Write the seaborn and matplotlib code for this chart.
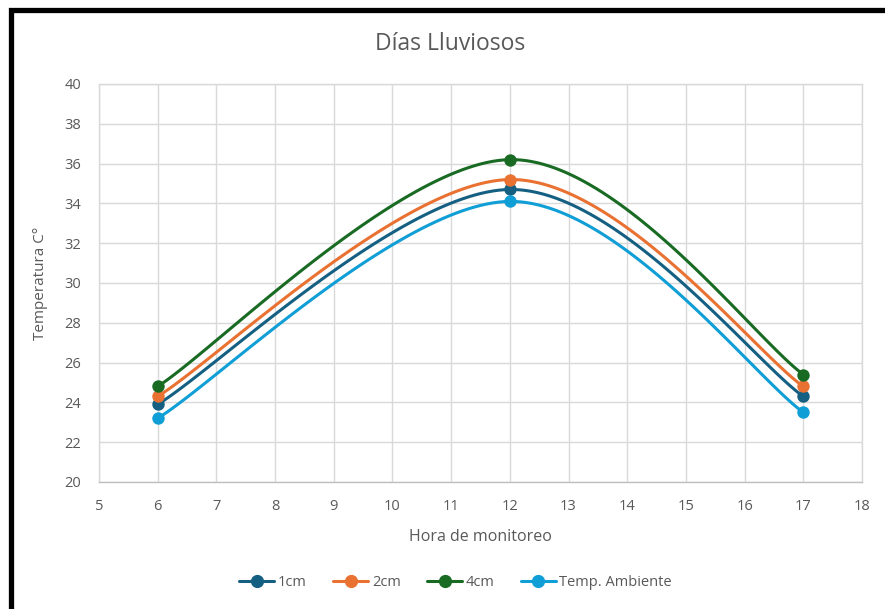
import numpy as np
import pandas as pd
import matplotlib
matplotlib.use("Agg")
import matplotlib.pyplot as plt
from matplotlib.lines import Line2D
from matplotlib.patches import Rectangle
import seaborn as sns

# Monitoring hours and temperatures (°C) on rainy days
horas = [6, 12, 17]
temp_1cm = [23.9, 34.7, 24.3]
temp_2cm = [24.3, 35.2, 24.8]
temp_4cm = [24.8, 36.2, 25.4]
temp_ambiente = [23.2, 34.1, 23.5]

series_names = ["1cm", "2cm", "4cm", "Temp. Ambiente"]
series_colors = ["#156082", "#E97132", "#196B24", "#0F9ED5"]

x_ticks = list(range(5, 19))
y_ticks = list(range(20, 41, 2))

sns.set_style("white")
plt.rcParams["font.family"] = ["Open Sans", "DejaVu Sans"]

GRAY = "#595959"
GRID = "#D9D9D9"


def smooth_curve(xs, ys, n=60):
    """Bezier smoothing through the points (Catmull-Rom style tangents)."""
    pts = np.column_stack([xs, ys]).astype(float)
    ext = np.vstack([pts[0], pts, pts[-1]])
    out = []
    t = np.linspace(0, 1, n)[:, None]
    for i in range(len(pts) - 1):
        p0, p1 = ext[i + 1], ext[i + 2]
        c1 = p0 + (ext[i + 2] - ext[i]) / 6.0
        c2 = p1 - (ext[i + 3] - ext[i + 1]) / 6.0
        seg = ((1 - t) ** 3) * p0 + 3 * ((1 - t) ** 2) * t * c1 + 3 * (1 - t) * t ** 2 * c2 + t ** 3 * p1
        out.append(seg if i == 0 else seg[1:])
    curve = np.vstack(out)
    return curve[:, 0], curve[:, 1]


fig = plt.figure(figsize=(8.85, 6.09), dpi=100)
ax = fig.add_axes([99 / 885, 1 - 482 / 609, (862 - 99) / 885, (482 - 84) / 609])

for name, vals, col in zip(series_names, [temp_1cm, temp_2cm, temp_4cm, temp_ambiente], series_colors):
    cx, cy = smooth_curve(horas, vals)
    curve_df = pd.DataFrame({"x": cx, "y": cy})
    sns.lineplot(data=curve_df, x="x", y="y", sort=False, color=col, linewidth=2.2, ax=ax, zorder=3)
    pts_df = pd.DataFrame({"x": horas, "y": vals})
    sns.scatterplot(data=pts_df, x="x", y="y", color=col, s=80, edgecolor=col, linewidth=0, ax=ax, zorder=4)

ax.set_xlim(5, 18)
ax.set_ylim(20, 40)
ax.set_xticks(x_ticks)
ax.set_yticks(y_ticks)
ax.grid(True, color=GRID, linewidth=1.0)
ax.set_axisbelow(True)
for side in ["top", "right", "left"]:
    ax.spines[side].set_color(GRID)
    ax.spines[side].set_linewidth(1.0)
ax.spines["bottom"].set_color("#BFBFBF")
ax.spines["bottom"].set_linewidth(1.0)
ax.tick_params(axis="both", colors=GRAY, labelsize=10.5, length=0)
ax.tick_params(axis="x", pad=12)
ax.tick_params(axis="y", pad=13)

ax.set_xlabel("Hora de monitoreo", color=GRAY, fontsize=11.5, labelpad=11)
ax.set_ylabel("Temperatura C°", color=GRAY, fontsize=11, labelpad=12)
fig.text(0.509, 1 - 44 / 609, "Días Lluviosos", ha="center", va="center", color=GRAY, fontsize=16.5)

handles = [Line2D([0], [0], color=c, lw=2.2, marker="o", markersize=8.5) for c in series_colors]
leg = fig.legend(handles, series_names, loc="center", bbox_to_anchor=(0.515, 1 - 583 / 609), ncol=4,
                 frameon=False, fontsize=10.5, handlelength=2.4, columnspacing=1.8, handletextpad=0.25)
for t in leg.get_texts():
    t.set_color(GRAY)

# Heavy frame on the top and left edges of the chart area
fig.patches.append(Rectangle((10.5 / 885, -0.1), 1.2, 1 - 10 / 609 + 0.1, transform=fig.transFigure,
                             fill=False, edgecolor="black", linewidth=3.8, zorder=10))

fig.savefig("out.png", dpi=100)
